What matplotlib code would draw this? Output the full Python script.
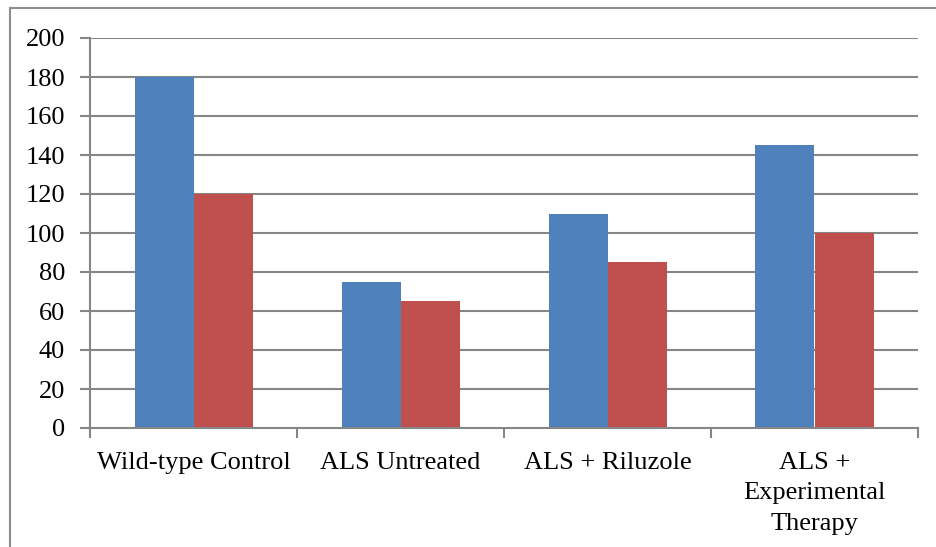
import matplotlib
matplotlib.use("Agg")
import matplotlib.pyplot as plt
from matplotlib.patches import Rectangle
import numpy as np

categories = ["Wild-type Control", "ALS Untreated", "ALS + Riluzole", "ALS +\nExperimental\nTherapy"]
series_a = [180, 75, 110, 145]
series_b = [120, 65, 85, 100]
y_ticks = [0, 20, 40, 60, 80, 100, 120, 140, 160, 180, 200]

plt.rcParams['font.family'] = ['Liberation Serif', 'DejaVu Serif']

W, H = 936, 547
fig = plt.figure(figsize=(W / 100, H / 100), dpi=100)
ax = fig.add_axes([90 / W, 1 - 428 / H, (918 - 90) / W, (428 - 38) / H])

grid_col = '#868686'
x = np.arange(len(categories))
bw = 59 / 207
ax.bar(x - bw / 2, series_a, width=bw, color='#4F81BD', zorder=3)
ax.bar(x + bw / 2, series_b, width=bw, color='#C0504D', zorder=3)

ax.set_xlim(-0.5, len(categories) - 0.5)
ax.set_ylim(0, 200)
ax.set_yticks(y_ticks)
ax.set_yticklabels([str(v) for v in y_ticks], fontsize=19)
for v in y_ticks[1:]:
    ax.axhline(v, color=grid_col, lw=1.5, zorder=1)

ax.set_xticks(x)
ax.set_xticklabels(categories, fontsize=19, linespacing=1.5)
ax.set_xticks(np.arange(len(categories) + 1) - 0.5, minor=True)
ax.tick_params(axis='x', which='major', length=0, pad=17)
ax.tick_params(axis='x', which='minor', length=7, width=1.5, color=grid_col)
ax.tick_params(axis='y', length=7, width=1.5, color=grid_col, pad=11)

for s in ['top', 'right']:
    ax.spines[s].set_visible(False)
for s in ['left', 'bottom']:
    ax.spines[s].set_color(grid_col)
    ax.spines[s].set_linewidth(1.5)
    ax.spines[s].set_zorder(4)

# chart area frame
fig.patches.append(Rectangle((10 / W, -0.1), 1.2, 1 - 8 / H + 0.1,
                             transform=fig.transFigure, fill=False,
                             edgecolor='#8c8c8c', lw=1.5))

fig.savefig('out.png', dpi=100)
